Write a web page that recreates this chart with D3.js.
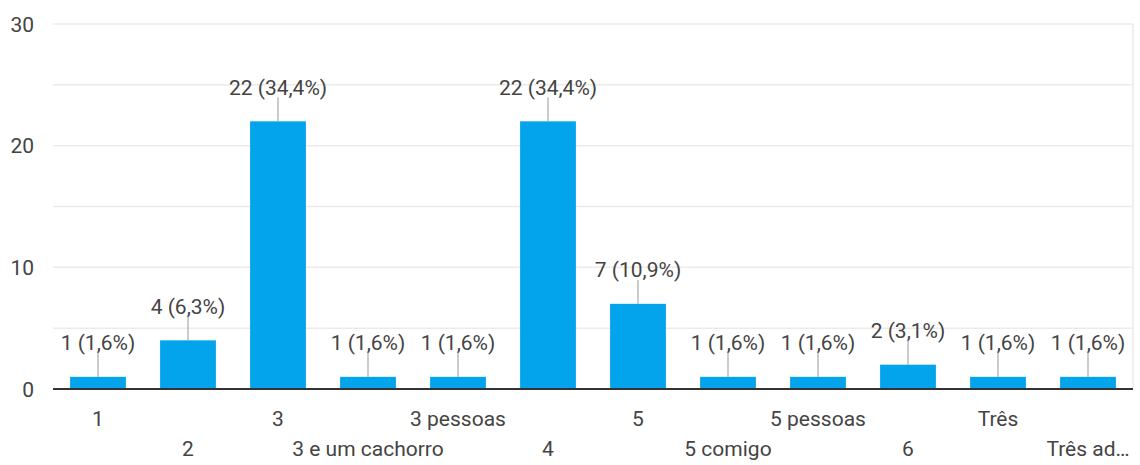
<!DOCTYPE html>
<html>
<head>
<meta charset="utf-8">
<script src="https://cdn.jsdelivr.net/npm/d3@7"></script>
<style>
  body { margin: 0; background: #fff; }
  svg { display: block; }
  text { font-family: Roboto, "Liberation Sans", sans-serif; fill: #444; }
</style>
</head>
<body>
<svg id="chart" width="1140" height="465"></svg>
<script>
'use strict'

var categories = ["1", "2", "3", "3 e um cachorro", "3 pessoas", "4", "5", "5 comigo", "5 pessoas", "6", "Três", "Três ad…"],
    counts = [1, 4, 22, 1, 1, 22, 7, 1, 1, 2, 1, 1],
    percents = ["1,6%", "6,3%", "34,4%", "1,6%", "1,6%", "34,4%", "10,9%", "1,6%", "1,6%", "3,1%", "1,6%", "1,6%"],
    yTicks = [0, 10, 20, 30],
    yGrid = [5, 10, 15, 20, 25, 30];

var width = 1140,
    height = 465,
    margin = {top: 24, right: 7, bottom: 75, left: 53};

var svg = d3.select("#chart");

var x = d3.scaleBand()
    .domain(categories)
    .range([margin.left, width - margin.right])
    .paddingInner(0.38)
    .paddingOuter(0.19);

var y = d3.scaleLinear()
    .domain([0, 30])
    .range([height - margin.bottom - 1, margin.top]);

// grid
svg.append("g")
  .selectAll("line")
  .data(yGrid)
  .enter().append("line")
    .attr("x1", margin.left)
    .attr("x2", width - margin.right)
    .attr("y1", (d) => y(d))
    .attr("y2", (d) => y(d))
    .attr("stroke", "#ebebeb")
    .attr("stroke-width", 1.5);

// right border
svg.append("line")
    .attr("x1", width - margin.right)
    .attr("x2", width - margin.right)
    .attr("y1", y(30))
    .attr("y2", y(0))
    .attr("stroke", "#ebebeb")
    .attr("stroke-width", 1.5);

// y labels
svg.append("g")
  .selectAll("text")
  .data(yTicks)
  .enter().append("text")
    .attr("x", 34)
    .attr("y", (d) => y(d))
    .attr("dy", "0.36em")
    .attr("text-anchor", "end")
    .style("font-size", "21px")
    .text((d) => d);

// bars
svg.append("g")
  .selectAll("rect")
  .data(counts)
  .enter().append("rect")
    .attr("x", (d, i) => x(categories[i]))
    .attr("y", (d) => y(d))
    .attr("width", x.bandwidth())
    .attr("height", (d) => y(0) - y(d))
    .attr("fill", "#03a4ec");

// leader lines + labels
var labels = svg.append("g");
counts.forEach(function(d, i) {
  var cx = x(categories[i]) + x.bandwidth() / 2;
  labels.append("line")
      .attr("x1", cx).attr("x2", cx)
      .attr("y1", y(d))
      .attr("y2", y(d) - 24)
      .attr("stroke", "#999")
      .attr("stroke-width", 1);
  labels.append("text")
      .attr("x", cx)
      .attr("y", y(d) - 34)
      .attr("dy", "0.36em")
      .attr("text-anchor", "middle")
      .style("font-size", "21px")
      .text(d + " (" + percents[i] + ")");
});

// baseline
svg.append("line")
    .attr("x1", margin.left)
    .attr("x2", width - margin.right)
    .attr("y1", y(0))
    .attr("y2", y(0))
    .attr("stroke", "#333")
    .attr("stroke-width", 2);

// x labels, staggered on two rows
svg.append("g")
  .selectAll("text")
  .data(categories)
  .enter().append("text")
    .attr("x", (d) => x(d) + x.bandwidth() / 2)
    .attr("y", (d, i) => i % 2 === 0 ? 418 : 448)
    .attr("dy", "0.36em")
    .attr("text-anchor", "middle")
    .style("font-size", "21px")
    .text((d) => d);
</script>
</body>
</html>
